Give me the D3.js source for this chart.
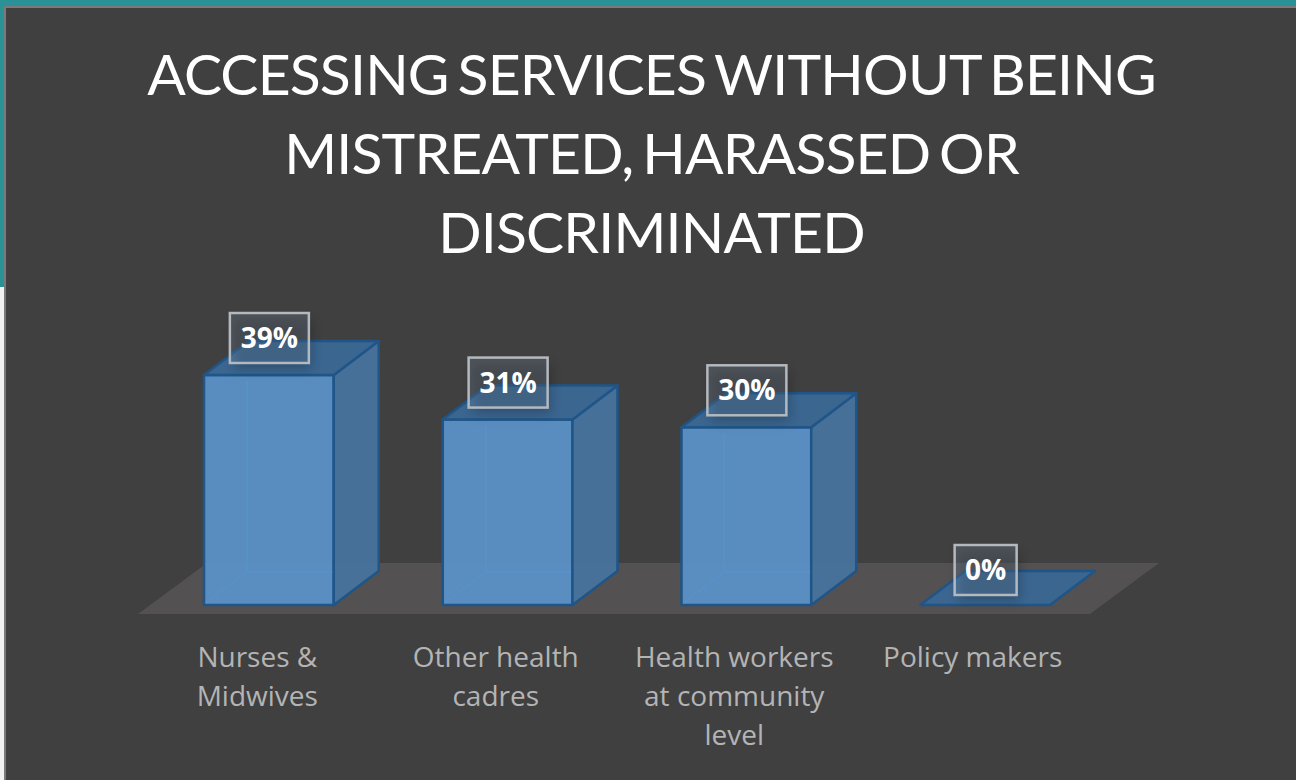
<!DOCTYPE html>
<html><head><meta charset="utf-8">
<style>html,body{margin:0;padding:0;background:#404040;overflow:hidden}svg{display:block}</style>
<script src="https://cdn.jsdelivr.net/npm/d3@7/dist/d3.min.js"></script>
</head><body><svg id="c" width="1296" height="780"></svg>
<script>
const categories=["Nurses & Midwives","Other health cadres","Health workers at community level","Policy makers"];
const categoryLines=[["Nurses &","Midwives"],["Other health","cadres"],["Health workers","at community","level"],["Policy makers"]];
const values=[38.7,31.2,29.9,0];
const titleLines=["ACCESSING SERVICES WITHOUT BEING","MISTREATED, HARASSED OR","DISCRIMINATED"];

const W=1296,H=780,svg=d3.select("#c");
const x=d3.scaleBand().domain(categories).range([204,1050]).paddingInner(109/238.7).paddingOuter(0);
const y=d3.scaleLinear().domain([0,38.7]).range([605,375]);
const dx=45,dy=34,bw=x.bandwidth();
const defs=svg.append("defs");
const blur=defs.append("filter").attr("id","sh").attr("x","-30%").attr("y","-30%").attr("width","160%").attr("height","180%");
blur.append("feGaussianBlur").attr("stdDeviation",6);

svg.append("rect").attr("width",W).attr("height",H).attr("fill","#404040");
svg.append("rect").attr("width",W).attr("height",7).attr("fill","#2a9296");
svg.append("rect").attr("width",4).attr("height",287).attr("fill","#2a9296");
svg.append("rect").attr("x",0).attr("y",287).attr("width",4).attr("height",H-287).attr("fill","#f2f2f2");
svg.append("rect").attr("x",4).attr("y",6).attr("width",W-4).attr("height",2).attr("fill","#7a7a7a");
svg.append("rect").attr("x",4).attr("y",6).attr("width",2).attr("height",H-6).attr("fill","#7a7a7a");

// floor
svg.append("path").attr("fill","#535151")
  .attr("d",d3.line()([[138,614],[1090,614],[1159,563],[207,563]])+"Z");

const stroke="#1f5588";
const g=svg.selectAll("g.bar").data(categories.map((c,i)=>({c,v:values[i],lines:categoryLines[i]}))).join("g").attr("class","bar");
const poly=p=>d3.line()(p)+"Z";
// front
g.filter(d=>d.v>0).append("path").attr("fill","#5b90c6").attr("fill-opacity",0.95).attr("stroke",stroke).attr("stroke-width",2.5).attr("stroke-linejoin","round")
  .attr("d",d=>{const l=x(d.c),r=l+bw;return poly([[l,y(d.v)],[r,y(d.v)],[r,y(0)],[l,y(0)]]);});
// back edges, seen through the front
g.filter(d=>d.v>0).append("path").attr("fill","none").attr("stroke","#5795cc").attr("stroke-opacity",0.55).attr("stroke-width",2).attr("d",d=>{
  const l=x(d.c)+dx-2,b=y(0)-dy+1,t=y(d.v)-dy+40;
  return `M${l},${t}L${l},${b}L${l+bw-dx+2},${b}M${l},${b}L${x(d.c)+2},${y(0)-2}`;});
// side
g.filter(d=>d.v>0).append("path").attr("fill","#47739d").attr("fill-opacity",0.95).attr("stroke",stroke).attr("stroke-width",2.5).attr("stroke-linejoin","round")
  .attr("d",d=>{const r=x(d.c)+bw;return poly([[r,y(d.v)],[r+dx,y(d.v)-dy],[r+dx,y(0)-dy],[r,y(0)]]);});
// top
g.append("path").attr("fill","#3b6690").attr("stroke",stroke).attr("stroke-width",2.5).attr("stroke-linejoin","round")
  .attr("d",d=>{const l=x(d.c),r=l+bw,t=y(d.v);return poly([[l,t],[r,t],[r+dx,t-dy],[l+dx,t-dy]]);});

// data labels
const boxW=d=>d.v>0?79:62;
const boxCy=d=>y(d.v)-(d.v>0?37:35);
g.append("rect").attr("filter","url(#sh)").attr("fill","#000").attr("fill-opacity",0.22)
  .attr("x",d=>x(d.c)+bw/2-boxW(d)/2+4).attr("y",d=>boxCy(d)-25+6).attr("width",boxW).attr("height",50);
g.append("rect").attr("fill","#9cc0e0").attr("fill-opacity",0.17).attr("stroke","#b3b9be").attr("stroke-width",2.5)
  .attr("x",d=>x(d.c)+bw/2-boxW(d)/2+0.5).attr("y",d=>boxCy(d)-25).attr("width",boxW).attr("height",50);
g.append("text").attr("x",d=>x(d.c)+bw/2+0.5).attr("y",d=>boxCy(d)+10)
  .attr("text-anchor","middle").attr("fill","#fff").attr("font-family","'Open Sans'").attr("font-weight",700).attr("font-size",28)
  .text(d=>d3.format(".0f")(d.v)+"%");

// category labels
const labelX=d3.scaleBand().domain(categories).range([257-65,973+65]).paddingInner(108/238.7).paddingOuter(0);
g.append("text").attr("text-anchor","middle").attr("fill","#b4b4b4").attr("font-family","'Open Sans'").attr("font-size",28)
  .each(function(d){
    d3.select(this).selectAll("tspan").data(d.lines).join("tspan")
      .attr("x",labelX(d.c)+labelX.bandwidth()/2).attr("y",(_,i)=>667+i*39).text(t=>t);
  });

// title
svg.append("g").selectAll("text").data(titleLines).join("text")
  .attr("x",651.5).attr("y",(_,i)=>95+i*79).attr("text-anchor","middle")
  .attr("fill","#fff").attr("font-family","Lato").attr("font-size",57)
  .attr("letter-spacing",-0.8).attr("word-spacing",-5).text(d=>d);
</script></body></html>
